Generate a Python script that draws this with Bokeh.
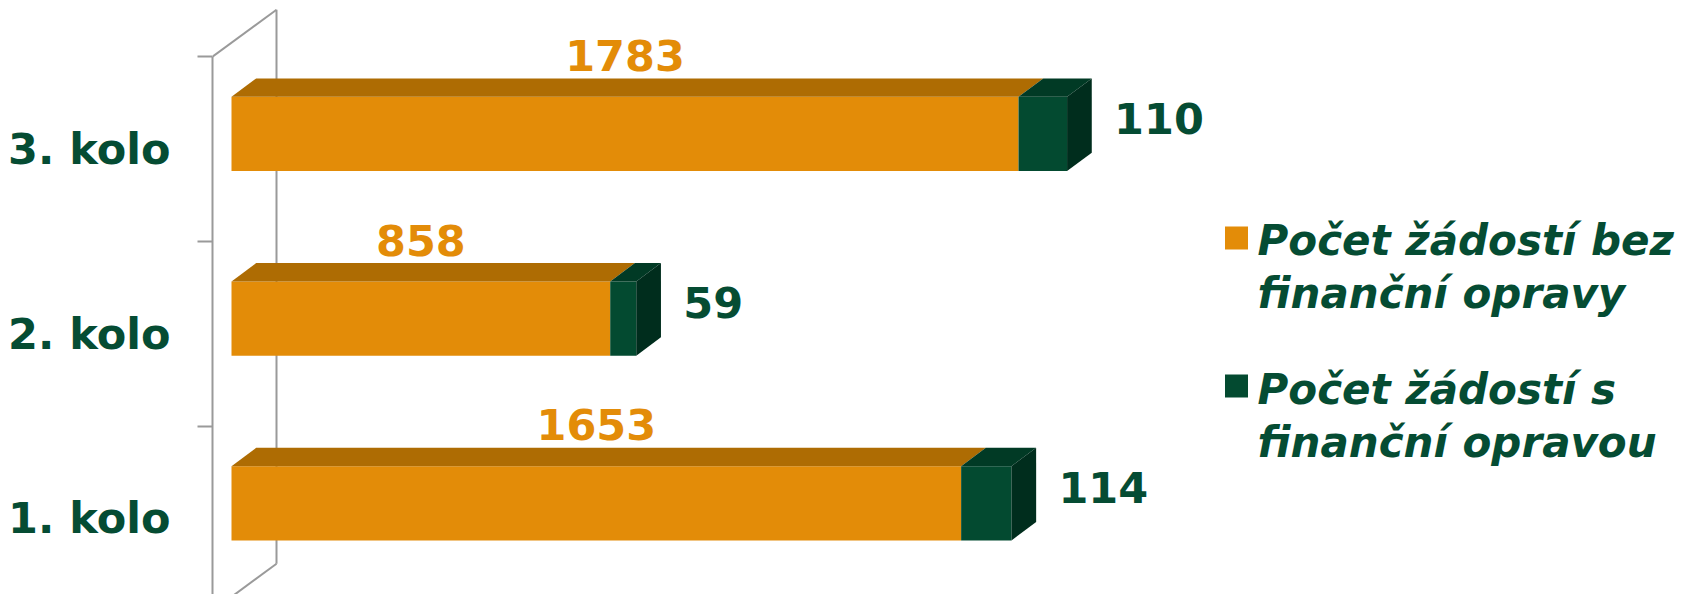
import numpy as np
from bokeh.plotting import figure
from bokeh.models import FixedTicker, Range1d
from bokeh.core.properties import value
from bokeh.embed import file_html
from bokeh.resources import INLINE

# ---- data ----
categories = ["1. kolo", "2. kolo", "3. kolo"]
bez_opravy = [1653, 858, 1783]
s_opravou = [114, 59, 110]
legend_bez = ["Počet žádostí bez", "finanční opravy"]
legend_s = ["Počet žádostí s", "finanční opravou"]

# ---- style ----
ORANGE = "#E38C08"
ORANGE_TOP = "#AE6C03"
GREEN = "#034A30"
GREEN_TOP = "#013A25"
GREEN_SIDE = "#002D1D"
TEXT_GREEN = "#054C33"
WALL = "#9A9A9A"
FONT = "DejaVu Sans"

W, H = 1678, 594
FRAME_LEFT = 212           # px, where the category axis sits
XSCALE = 0.4414            # px per request
YSCALE = 184.7             # px per category band
BAR_START_PX = 231
TOP_BOUNDARY_PX = 56.2
X0 = -(BAR_START_PX - FRAME_LEFT) / XSCALE
X1 = X0 + (W - FRAME_LEFT) / XSCALE
Y1 = 3 + TOP_BOUNDARY_PX / YSCALE
Y0 = Y1 - H / YSCALE

DX = 24.7 / XSCALE         # bar depth (x)
DY = 18.4 / YSCALE         # bar depth (y)
WDX = 64 / XSCALE          # wall depth
WDY = 47 / YSCALE
LO, HI = -0.119, 0.283     # front face relative to band centre
ORANGE_LABEL_DY = 0.506
GREEN_LABEL_DY = 0.168


def xd(px):
    return X0 + (px - FRAME_LEFT) / XSCALE


def yd(py):
    return Y1 - py / YSCALE


n = len(categories)
c = np.arange(n) + 0.5
v1 = np.array(bez_opravy, dtype=float)
v2 = np.array(s_opravou, dtype=float)
tot = v1 + v2
lo = c + LO
hi = c + HI

p = figure(width=W, height=H, x_range=Range1d(X0, X1), y_range=Range1d(Y0, Y1),
           output_backend="svg", toolbar_location=None, x_axis_location=None,
           min_border_left=FRAME_LEFT, min_border_right=0, min_border_top=0,
           min_border_bottom=0)
p.outline_line_color = None
p.grid.visible = False
p.background_fill_color = "white"
p.border_fill_color = "white"

ax = p.yaxis[0]
ax.ticker = FixedTicker(ticks=list(c), minor_ticks=list(range(n + 1)))
ax.major_label_overrides = {float(ci): lab for ci, lab in zip(c, categories)}
ax.bounds = (0, n)
ax.axis_line_color = WALL
ax.axis_line_width = 2
ax.major_tick_in = 0
ax.major_tick_out = 0
ax.minor_tick_in = 0
ax.minor_tick_out = 15
ax.minor_tick_line_color = WALL
ax.minor_tick_line_width = 2
ax.major_label_standoff = 27
ax.major_label_text_font = FONT
ax.major_label_text_font_size = "43px"
ax.major_label_text_font_style = "bold"
ax.major_label_text_color = TEXT_GREEN

# 3D wall behind the bars
p.segment(x0=[X0 + WDX, X0, X0], y0=[WDY, n, 0],
          x1=[X0 + WDX, X0 + WDX, X0 + WDX], y1=[n + WDY, n + WDY, WDY],
          line_color=WALL, line_width=2)

# front faces
p.quad(left=np.zeros(n), right=v1, bottom=lo, top=hi, fill_color=ORANGE, line_color=None)
p.quad(left=v1, right=tot, bottom=lo, top=hi, fill_color=GREEN, line_color=None)

# top faces and side face
top_o_x = [[0, a, a + DX, DX] for a in v1]
top_o_y = [[h, h, h + DY, h + DY] for h in hi]
p.patches(top_o_x, top_o_y, fill_color=ORANGE_TOP, line_color=None)
top_g_x = [[a, t, t + DX, a + DX] for a, t in zip(v1, tot)]
top_g_y = [[h, h, h + DY, h + DY] for h in hi]
p.patches(top_g_x, top_g_y, fill_color=GREEN_TOP, line_color=None)
side_x = [[t, t, t + DX, t + DX] for t in tot]
side_y = [[l, h, h + DY, l + DY] for l, h in zip(lo, hi)]
p.patches(side_x, side_y, fill_color=GREEN_SIDE, line_color=None)

# value labels
p.text(x=v1 / 2, y=c + ORANGE_LABEL_DY, text=[str(int(v)) for v in v1],
       text_align="center", text_baseline="alphabetic",
       text_font=value(FONT), text_font_size="43px", text_font_style="bold",
       text_color=ORANGE)
p.text(x=tot, y=c + GREEN_LABEL_DY, x_offset=47, text=[str(int(v)) for v in v2],
       text_align="left", text_baseline="alphabetic",
       text_font=value(FONT), text_font_size="43px", text_font_style="bold",
       text_color=TEXT_GREEN)

# legend (drawn manually so the swatch aligns with the first line)
p.scatter(x=[xd(1236), xd(1236)], y=[yd(237.5), yd(385.5)], marker="square",
          size=23, fill_color=[ORANGE, GREEN], line_color=None)
leg_lines = legend_bez + legend_s
leg_base = [240, 293, 389, 442]
p.text(x=[xd(1257)] * len(leg_lines), y=[yd(b) for b in leg_base], text=leg_lines,
       text_align="left", text_baseline="alphabetic",
       text_font=value(FONT), text_font_size="42px", text_font_style="bold italic",
       text_color=TEXT_GREEN)

open("out.html", "w").write(file_html(p, INLINE))
